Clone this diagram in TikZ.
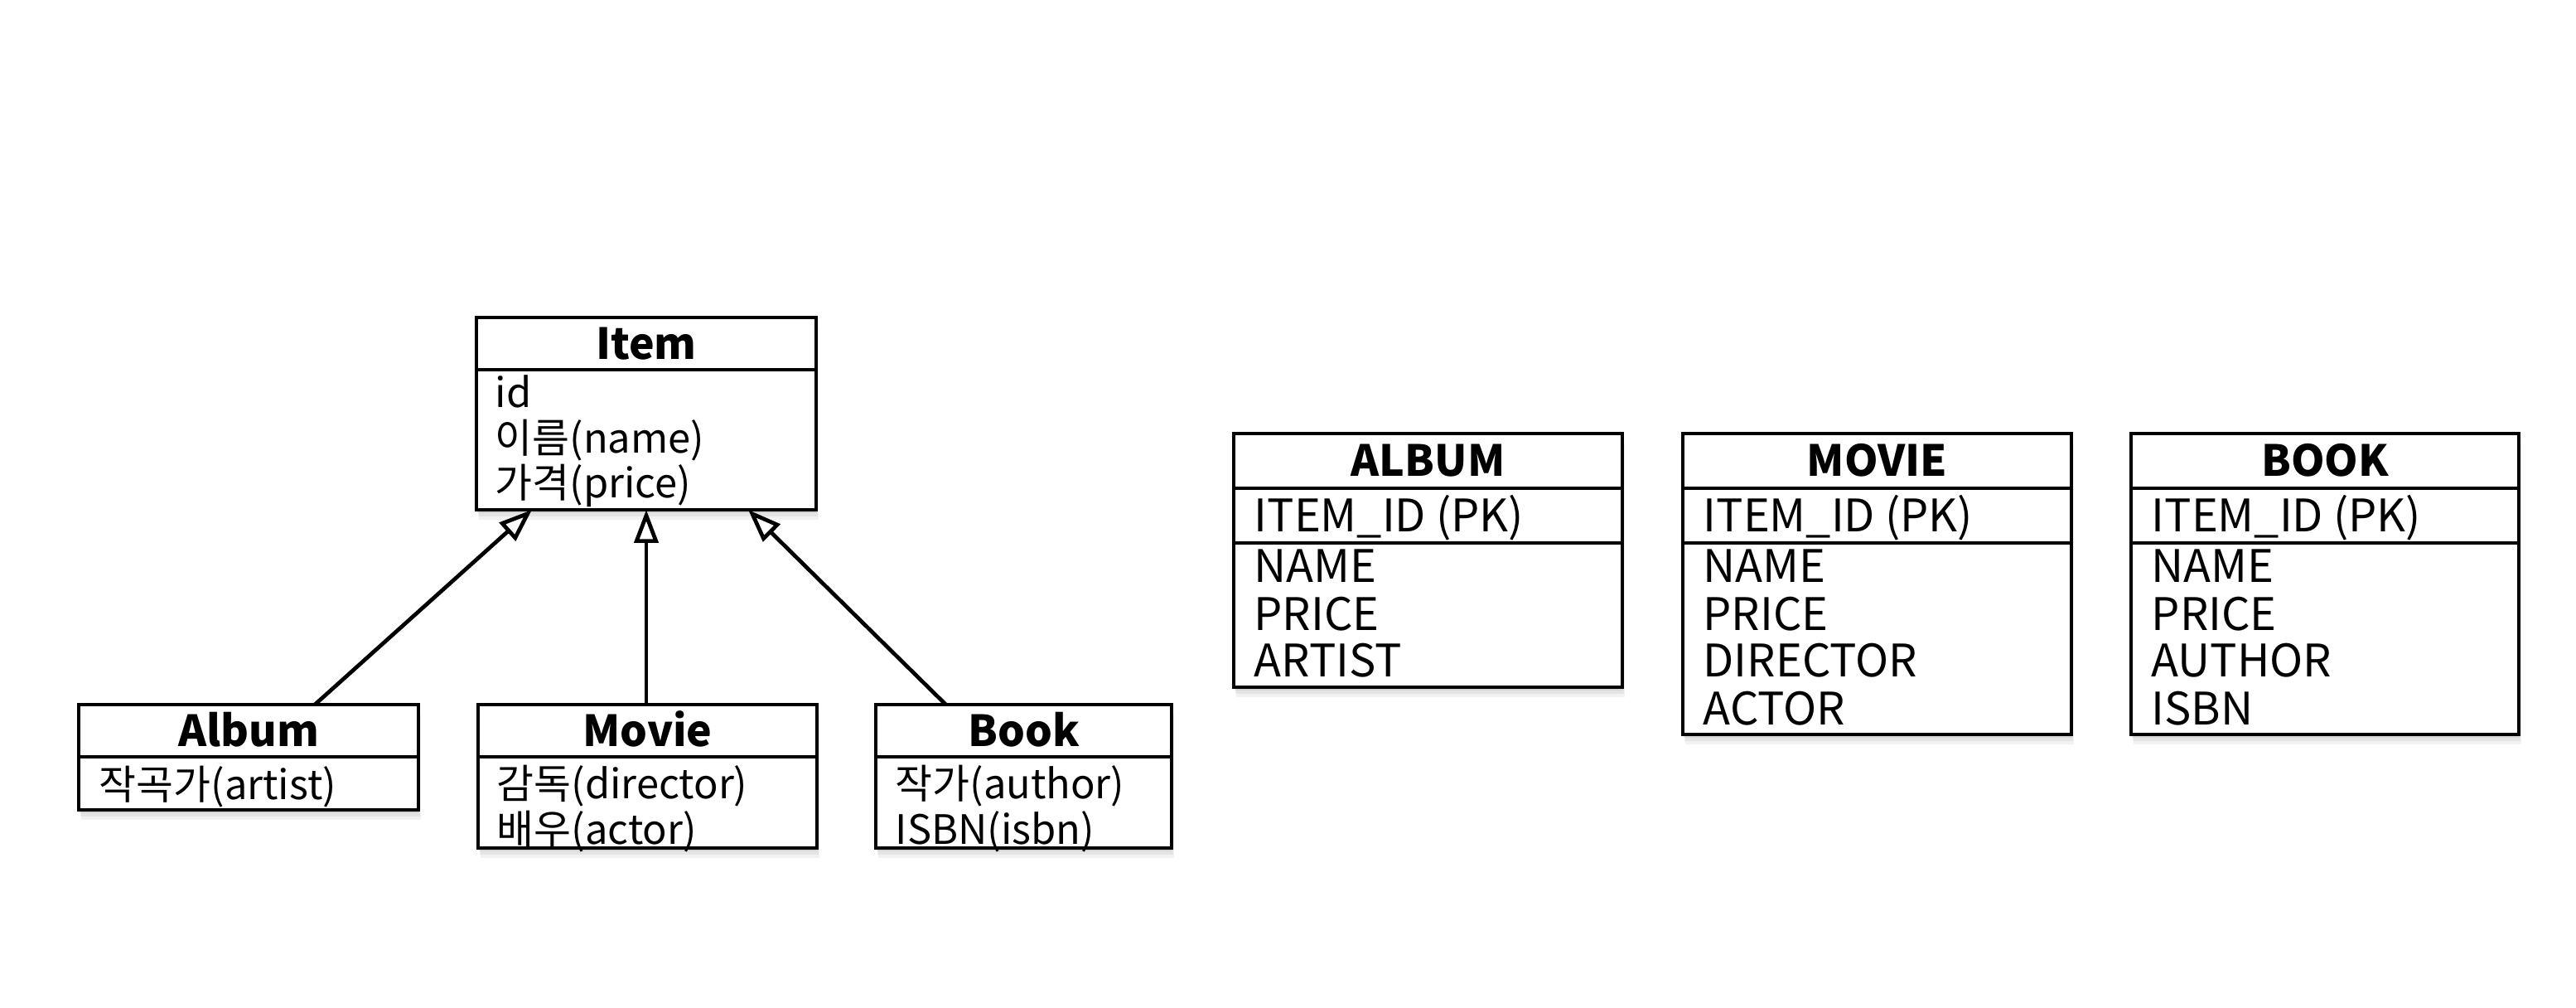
\documentclass[tikz,border=0pt]{standalone}
\usepackage{fontspec}
\setmainfont{Noto Sans CJK KR}
\usetikzlibrary{arrows.meta,shadows}
\begin{document}
\begin{tikzpicture}[x=1cm,y=1cm,
  box/.style={draw=black, line width=1.35pt, fill=white, inner sep=0pt, outer sep=0pt,
    anchor=north west,
    drop shadow={opacity=0.10, shadow xshift=0.03cm, shadow yshift=-0.12cm},
    drop shadow={opacity=0.12, shadow xshift=0.02cm, shadow yshift=-0.08cm},
    drop shadow={opacity=0.15, shadow xshift=0.01cm, shadow yshift=-0.04cm}},
  hdrfont/.style={font=\fontsize{14.7}{15}\selectfont\bfseries, text height=0.38cm, text depth=0pt},
  attr/.style={font=\fontsize{13.9}{15}\selectfont, anchor=base west, inner sep=0pt},
  col/.style={font=\fontsize{15.4}{17}\selectfont, anchor=base west, inner sep=0pt},
  inh/.style={line width=1.35pt, -{Triangle[open, length=0.4cm, width=0.29cm, line width=1.35pt]}}
]
\useasboundingbox (0,0) rectangle (31.09,-12.16);

% ---------- Item ----------
\node[box, hdrfont, minimum width=4.10cm, minimum height=0.63cm] (itemH) at (5.75,-3.83) {Item};
\node[box, minimum width=4.10cm, minimum height=1.69cm] (itemB) at (itemH.south west) {};
\node[attr] (itemA1) at (5.97,-4.92) {id};
\node[attr] (itemA2) at (5.97,-5.465) {이름(name)};
\node[attr] (itemA3) at (5.97,-6.01) {가격(price)};

% ---------- Album ----------
\node[box, hdrfont, minimum width=4.10cm, minimum height=0.63cm] (albumH) at (0.95,-8.50) {Album};
\node[box, minimum width=4.10cm, minimum height=0.64cm] (albumB) at (albumH.south west) {};
\node[attr] (albumA1) at (1.19,-9.64) {작곡가(artist)};

% ---------- Movie ----------
\node[box, hdrfont, minimum width=4.09cm, minimum height=0.63cm] (movieH) at (5.77,-8.50) {Movie};
\node[box, minimum width=4.09cm, minimum height=1.10cm] (movieB) at (movieH.south west) {};
\node[attr] (movieA1) at (5.99,-9.63) {감독(director)};
\node[attr] (movieA2) at (5.99,-10.18) {배우(actor)};

% ---------- Book ----------
\node[box, hdrfont, minimum width=3.57cm, minimum height=0.63cm] (bookH) at (10.57,-8.50) {Book};
\node[box, minimum width=3.57cm, minimum height=1.10cm] (bookB) at (bookH.south west) {};
\node[attr] (bookA1) at (10.80,-9.63) {작가(author)};
\node[attr] (bookA2) at (10.80,-10.18) {ISBN(isbn)};

% ---------- inheritance ----------
\draw[inh] ([xshift=0.80cm]albumH.north) -- ([xshift=-1.38cm]itemB.south);
\draw[inh] (itemB.south |- movieH.north) -- (itemB.south);
\draw[inh] ([xshift=-0.94cm]bookH.north) -- ([xshift=1.23cm]itemB.south);

% ---------- ALBUM table ----------
\node[box, hdrfont, minimum width=4.69cm, minimum height=0.66cm] (tAlbumH) at (14.89,-5.23) {ALBUM};
\node[box, minimum width=4.69cm, minimum height=0.66cm] (tAlbumK) at (tAlbumH.south west) {};
\node[box, minimum width=4.69cm, minimum height=1.74cm] (tAlbumB) at (tAlbumK.south west) {};
\node[col] (tAlbumC0) at (15.13,-6.42) {ITEM\_ID (PK)};
\node[col] (tAlbumC1) at (15.13,-7.03) {NAME};
\node[col] (tAlbumC2) at (15.13,-7.60) {PRICE};
\node[col] (tAlbumC3) at (15.13,-8.17) {ARTIST};

% ---------- MOVIE table ----------
\node[box, hdrfont, minimum width=4.69cm, minimum height=0.66cm] (tMovieH) at (20.31,-5.23) {MOVIE};
\node[box, minimum width=4.69cm, minimum height=0.66cm] (tMovieK) at (tMovieH.south west) {};
\node[box, minimum width=4.69cm, minimum height=2.31cm] (tMovieB) at (tMovieK.south west) {};
\node[col] (tMovieC0) at (20.55,-6.42) {ITEM\_ID (PK)};
\node[col] (tMovieC1) at (20.55,-7.03) {NAME};
\node[col] (tMovieC2) at (20.55,-7.60) {PRICE};
\node[col] (tMovieC3) at (20.55,-8.17) {DIRECTOR};
\node[col] (tMovieC4) at (20.55,-8.74) {ACTOR};

% ---------- BOOK table ----------
\node[box, hdrfont, minimum width=4.68cm, minimum height=0.66cm] (tBookH) at (25.72,-5.23) {BOOK};
\node[box, minimum width=4.68cm, minimum height=0.66cm] (tBookK) at (tBookH.south west) {};
\node[box, minimum width=4.68cm, minimum height=2.31cm] (tBookB) at (tBookK.south west) {};
\node[col] (tBookC0) at (25.96,-6.42) {ITEM\_ID (PK)};
\node[col] (tBookC1) at (25.96,-7.03) {NAME};
\node[col] (tBookC2) at (25.96,-7.60) {PRICE};
\node[col] (tBookC3) at (25.96,-8.17) {AUTHOR};
\node[col] (tBookC4) at (25.96,-8.74) {ISBN};
\end{tikzpicture}
\end{document}
